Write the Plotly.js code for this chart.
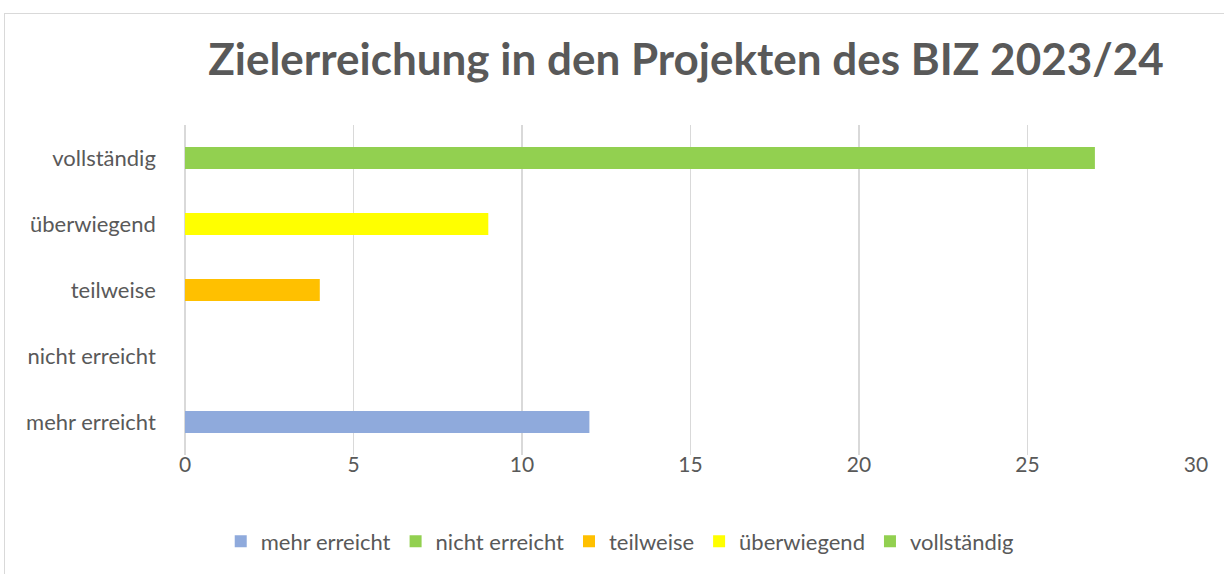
<!DOCTYPE html>
<html><head><meta charset="utf-8">
<script src="https://cdn.plot.ly/plotly-3.0.1.min.js"></script>
<style>
body{margin:0;padding:0;background:#fff;}
#chart{position:absolute;left:0;top:0;width:1224px;height:574px;}
#frame{position:absolute;left:4px;top:13px;width:1230px;height:580px;border:1px solid #d9d9d9;pointer-events:none;}
</style></head>
<body>
<div id="chart"></div>
<div id="frame"></div>
<script>
const categories = ["mehr erreicht", "nicht erreicht", "teilweise", "überwiegend", "vollständig"];
const values = [12, 0, 4, 9, 27];
const colors = ["#8FAADC", "#92D050", "#FFC000", "#FFFF00", "#92D050"];
const xTicks = [0, 5, 10, 15, 20, 25, 30];

const traces = categories.map((c, i) => ({
  type: "bar",
  orientation: "h",
  name: c,
  y: [c],
  x: [values[i]],
  width: 0.33,
  marker: {color: colors[i]},
  hoverinfo: "x+y"
}));

const layout = {
  width: 1224, height: 574,
  margin: {l: 185, r: 28, t: 125, b: 114},
  paper_bgcolor: "#fff", plot_bgcolor: "#fff",
  barmode: "overlay",
  font: {family: "Lato, 'Open Sans', sans-serif", color: "#595959", size: 22},
  title: {
    text: "<b>Zielerreichung in den Projekten des BIZ 2023/24</b>",
    font: {family: "Lato, sans-serif", size: 44, color: "#595959"},
    x: 0.4955, xanchor: "center", xref: "paper",
    y: 0.897, yanchor: "middle", yref: "container"
  },
  xaxis: {
    range: [0, 30],
    tickvals: xTicks,
    showgrid: true, gridcolor: "#d9d9d9", gridwidth: 1.5,
    zeroline: true, zerolinecolor: "#d9d9d9", zerolinewidth: 1.5,
    showline: false, ticks: "", fixedrange: true,
    ticklabelstandoff: -5,
    tickfont: {size: 21, color: "#595959"}
  },
  yaxis: {
    type: "category",
    categoryorder: "array", categoryarray: categories,
    showgrid: false, zeroline: false, showline: false, ticks: "",
    ticksuffix: "     ",
    tickfont: {size: 22, color: "#595959"}
  },
  legend: {
    orientation: "h",
    x: 0.43, xanchor: "center",
    y: -0.262, yanchor: "middle",
    font: {size: 22, color: "#595959"},
    traceorder: "normal",
    itemwidth: 30
  },
  showlegend: true
};

Plotly.newPlot("chart", traces, layout, {displayModeBar: false, staticPlot: true});
</script>
</body></html>
